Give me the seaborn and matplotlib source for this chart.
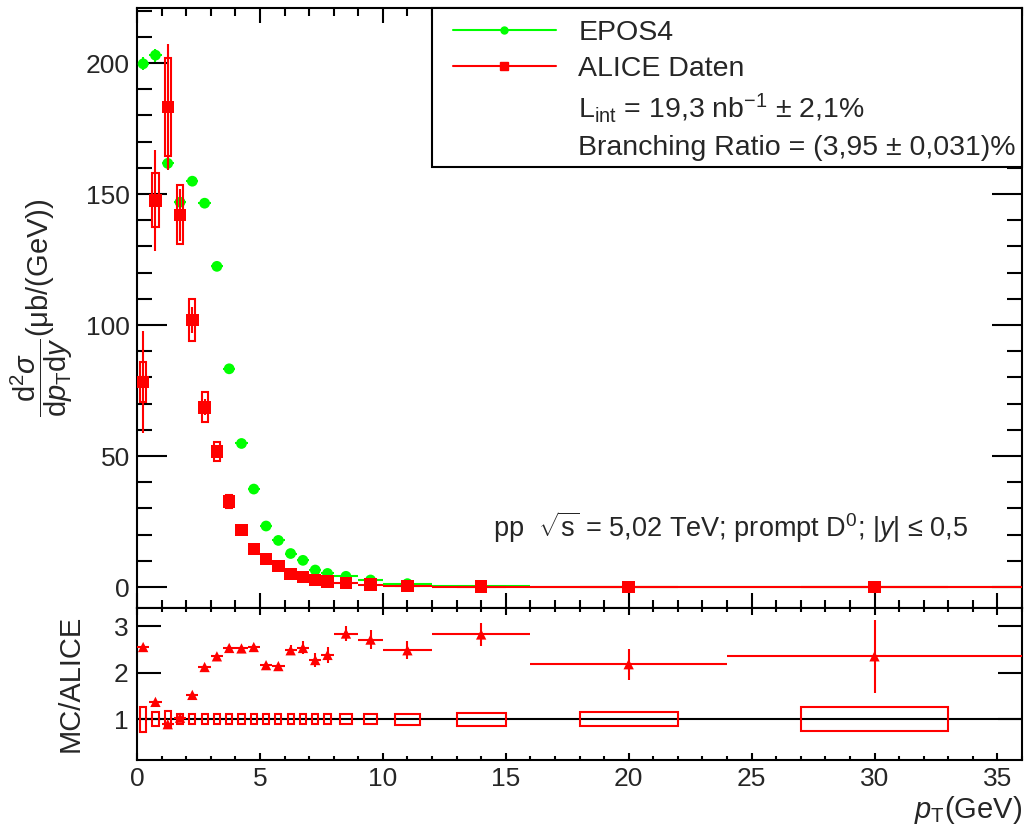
import numpy as np
import pandas as pd
import matplotlib
matplotlib.use("Agg")
import matplotlib.pyplot as plt
import seaborn as sns
from matplotlib.patches import Rectangle
from matplotlib.lines import Line2D
from matplotlib.ticker import MultipleLocator

# ---------------- data ----------------
pt_lo = [0, 0.5, 1, 1.5, 2, 2.5, 3, 3.5, 4, 4.5, 5, 5.5, 6, 6.5, 7, 7.5, 8, 9, 10, 12, 16, 24]
pt_hi = [0.5, 1, 1.5, 2, 2.5, 3, 3.5, 4, 4.5, 5, 5.5, 6, 6.5, 7, 7.5, 8, 9, 10, 12, 16, 24, 36]
alice = [78.3, 147.6, 183.2, 142.1, 101.9, 68.6, 51.7, 32.7, 21.7, 14.6, 10.8, 8.1,
         5.0, 3.9, 2.8, 2.2, 1.5, 0.9, 0.5, 0.18, 0.045, 0.008]
alice_stat = [19.4, 19.2, 24.0, 10.0, 4.8, 3.0, 2.0, 1.2, 0.8, 0.5, 0.4, 0.3,
              0.2, 0.15, 0.12, 0.1, 0.06, 0.04, 0.02, 0.008, 0.003, 0.001]
alice_syst = [7.5, 10.3, 18.7, 11.3, 8.0, 5.7, 3.6, 2.4, 1.6, 1.0, 0.75, 0.55,
              0.35, 0.27, 0.2, 0.15, 0.1, 0.06, 0.04, 0.015, 0.004, 0.001]
epos = [199.7, 203.0, 161.7, 146.9, 154.9, 146.5, 122.4, 83.3, 54.8, 37.4, 23.3, 17.8,
        12.8, 10.2, 6.5, 5.2, 4.1, 2.7, 1.3, 0.5, 0.1, 0.02]
epos_err = [2.5, 2.5, 2.2, 2.0, 2.0, 1.8, 1.5, 1.2, 1.0, 0.8, 0.6, 0.5,
            0.4, 0.3, 0.25, 0.2, 0.15, 0.1, 0.05, 0.02, 0.01, 0.005]
ratio = [2.55, 1.37, 0.89, 1.03, 1.52, 2.12, 2.35, 2.53, 2.52, 2.55, 2.16, 2.14,
         2.48, 2.53, 2.27, 2.38, 2.84, 2.71, 2.48, 2.82, 2.18, 2.35]
ratio_err = [0.03, 0.03, 0.03, 0.03, 0.03, 0.03, 0.03, 0.04, 0.04, 0.04, 0.05, 0.05,
             0.11, 0.14, 0.15, 0.18, 0.17, 0.20, 0.19, 0.25, 0.33, 0.78]
ratio_syst = [0.27, 0.15, 0.17, 0.11, 0.10, 0.10, 0.10, 0.10, 0.10, 0.10, 0.10, 0.10,
              0.10, 0.10, 0.10, 0.10, 0.10, 0.10, 0.12, 0.14, 0.15, 0.25]

df = pd.DataFrame({"lo": pt_lo, "hi": pt_hi, "alice": alice, "stat": alice_stat,
                   "syst": alice_syst, "epos": epos, "eerr": epos_err,
                   "ratio": ratio, "rerr": ratio_err, "rsyst": ratio_syst})
df["pt"] = (df["lo"] + df["hi"]) / 2
df["hw"] = (df["hi"] - df["lo"]) / 2

# ---------------- style ----------------
sns.set_theme(style="ticks")
plt.rcParams["font.family"] = ["Liberation Sans", "DejaVu Sans"]
plt.rcParams["mathtext.fontset"] = "custom"
plt.rcParams["mathtext.rm"] = "Liberation Sans"
plt.rcParams["mathtext.it"] = "Liberation Sans:italic"
plt.rcParams["mathtext.bf"] = "Liberation Sans:bold"
plt.rcParams["axes.edgecolor"] = "black"
plt.rcParams["axes.linewidth"] = 1.5

GREEN = (0, 1, 0)
RED = (1, 0, 0)

W, H = 1025, 827
fig = plt.figure(figsize=(W / 100, H / 100), dpi=100)
ax = fig.add_axes([137 / W, 1 - 607.5 / H, (1022 - 137) / W, (607.5 - 8) / H])
ax2 = fig.add_axes([137 / W, 1 - 760 / H, (1022 - 137) / W, (760 - 607.5) / H], sharex=ax)

# ---------------- top panel ----------------
ax.errorbar(df["pt"], df["epos"], xerr=df["hw"], yerr=df["eerr"], fmt="none",
            ecolor=GREEN, elinewidth=1.5, capsize=0, zorder=2)
sns.scatterplot(data=df, x="pt", y="epos", ax=ax, color=GREEN, marker="o", s=60,
                edgecolor="none", zorder=3, legend=False)

ax.errorbar(df["pt"], df["alice"], xerr=df["hw"], yerr=df["stat"], fmt="none",
            ecolor=RED, elinewidth=1.5, capsize=0, zorder=4)
for _, r in df.iterrows():
    ax.add_patch(Rectangle((r["pt"] - r["hw"] / 2, r["alice"] - r["syst"]), r["hw"],
                           2 * r["syst"], fill=False, edgecolor=RED, lw=1.5, zorder=4))
sns.scatterplot(data=df, x="pt", y="alice", ax=ax, color=RED, marker="s", s=80,
                edgecolor="none", zorder=5, legend=False)

ax.set_xlim(0, 36)
ax.set_ylim(-7.8, 221)
ax.xaxis.set_major_locator(MultipleLocator(5))
ax.xaxis.set_minor_locator(MultipleLocator(1))
ax.yaxis.set_major_locator(MultipleLocator(50))
ax.yaxis.set_minor_locator(MultipleLocator(10))
ax.tick_params(axis="both", which="both", direction="in", top=True, right=True,
               width=1.5, color="black")
ax.tick_params(axis="y", which="major", length=21.6, labelsize=19, pad=5)
ax.tick_params(axis="y", which="minor", length=10.8)
ax.tick_params(axis="x", which="major", length=10.8, labelbottom=False)
ax.tick_params(axis="x", which="minor", length=5.8)
ax.set_xlabel("")
ax.set_ylabel(r"$\dfrac{\mathrm{d}^{2}\sigma}{\mathrm{d}p_{\mathrm{T}}\mathrm{d}y}$(μb/(GeV))",
              fontsize=21)
ax.yaxis.set_label_coords(-0.070, 0.5)

# legend box
ax.add_patch(Rectangle(((432 - 137) / 885, 1 - (167 - 8) / 599.5), 1 - (432 - 137) / 885,
                       (167 - 8) / 599.5, transform=ax.transAxes, facecolor="white",
                       edgecolor="black", lw=1.5, zorder=10, clip_on=False))
handles = [Line2D([], [], color=GREEN, marker="o", markersize=5, lw=1.5),
           Line2D([], [], color=RED, marker="s", markersize=6, lw=1.5),
           Line2D([], [], color="none"),
           Line2D([], [], color="none")]
labels = ["EPOS4", "ALICE Daten",
          r"L$_{\mathrm{int}}$ = 19,3 nb$^{\mathrm{-1}}$ ± 2,1%",
          "Branching Ratio = (3,95 ± 0,031)%"]
leg = ax.legend(handles, labels, loc="upper left",
                bbox_to_anchor=((453 - 137) / 885, 0.98), frameon=False,
                fontsize=20.5, handlelength=3.6, handletextpad=0.8,
                labelspacing=0.34, borderpad=0, borderaxespad=0)
leg.set_zorder(11)

ax.text((493 - 137) / 885, 1 - (527 - 8) / 599.5,
        r"pp  $\sqrt{\mathrm{s}}$ = 5,02 TeV; prompt D$^{0}$; |$y$| ≤ 0,5",
        transform=ax.transAxes, fontsize=19.5, va="center", ha="left")

# ---------------- ratio panel ----------------
ax2.axhline(1, color="black", lw=1.5, zorder=1)
for _, r in df.iterrows():
    ax2.add_patch(Rectangle((r["pt"] - r["hw"] / 2, 1 - r["rsyst"]), r["hw"],
                            2 * r["rsyst"], fill=False, edgecolor=RED, lw=1.5, zorder=3))
ax2.errorbar(df["pt"], df["ratio"], xerr=df["hw"], yerr=df["rerr"], fmt="none",
             ecolor=RED, elinewidth=1.5, capsize=0, zorder=3)
sns.scatterplot(data=df, x="pt", y="ratio", ax=ax2, color=RED, marker="^", s=55,
                edgecolor="none", zorder=4, legend=False)

ax2.set_ylim(0.12, 3.40)
ax2.set_xlim(0, 36)
ax2.yaxis.set_major_locator(MultipleLocator(1))
ax2.xaxis.set_major_locator(MultipleLocator(5))
ax2.xaxis.set_minor_locator(MultipleLocator(1))
ax2.tick_params(axis="both", which="both", direction="in", top=True, right=True,
                width=1.5, color="black", labelsize=19)
ax2.tick_params(axis="y", which="major", length=17, pad=6)
ax2.tick_params(axis="y", which="minor", left=False, right=False)
ax2.tick_params(axis="x", which="major", length=5, pad=5)
ax2.tick_params(axis="x", which="minor", length=3)
ax2.set_ylabel("MC/ALICE", fontsize=21)
ax2.yaxis.set_label_coords(-0.0588, 0.5)
ax2.set_xlabel(r"$p_{\mathrm{T}}$(GeV)", fontsize=21, ha="right")
ax2.xaxis.set_label_coords(1.0, -0.22)

fig.savefig("out.png", dpi=100)
